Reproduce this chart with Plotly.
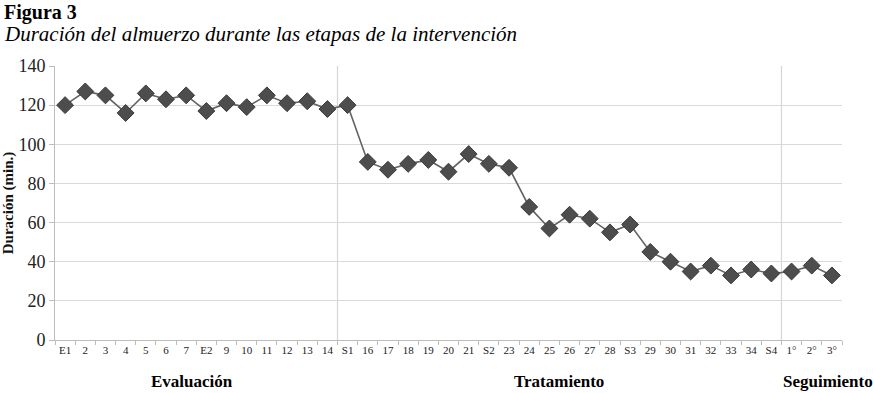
import plotly.graph_objects as go

sessions = ["E1", "2", "3", "4", "5", "6", "7", "E2", "9", "10", "11", "12", "13", "14",
            "S1", "16", "17", "18", "19", "20", "21", "S2", "23", "24", "25", "26", "27", "28",
            "S3", "29", "30", "31", "32", "33", "34", "S4", "1°", "2°", "3°"]
duration = [120, 127, 125, 116, 126, 123, 125, 117, 121, 119, 125, 121, 122, 118,
            120, 91, 87, 90, 92, 86, 95, 90, 88, 68, 57, 64, 62, 55,
            59, 45, 40, 35, 38, 33, 36, 34, 35, 38, 33]
phase_names = ["Evaluación", "Tratamiento", "Seguimiento"]
phase_lengths = [14, 22, 3]
y_ticks = [0, 20, 40, 60, 80, 100, 120, 140]

serif = "Times New Roman, Liberation Serif, serif"
fig = go.Figure()
fig.add_trace(go.Scatter(
    x=sessions, y=duration, mode="lines+markers",
    line=dict(color="#636363", width=1.6),
    marker=dict(symbol="diamond", size=13, color="#4d4d4d",
                line=dict(color="#3a3a3a", width=1)),
    showlegend=False,
))

# phase divider lines
cum = 0
for n in phase_lengths[:-1]:
    cum += n
    fig.add_shape(type="line", xref="x", yref="paper", x0=cum - 0.5, x1=cum - 0.5,
                  y0=0, y1=1, line=dict(color="#d6d6d6", width=1.2), layer="below")

fig.update_layout(
    width=873, height=393,
    margin=dict(l=55, r=31, t=66, b=53, autoexpand=False),
    paper_bgcolor="white", plot_bgcolor="white",
    font=dict(family=serif, color="#111"),
    xaxis=dict(type="category", range=[-0.5, len(sessions) - 0.5], automargin=False,
               showgrid=False, showline=True, linecolor="#bdbdbd", linewidth=1,
               ticks="outside", tickson="boundaries", ticklen=4, tickcolor="#bdbdbd",
               tickfont=dict(family=serif, size=11, color="#222"), tickangle=0),
    yaxis=dict(range=[0, 140], tickvals=y_ticks, showgrid=True, gridcolor="#d9d9d9",
               gridwidth=1.2, showline=True, linecolor="#bdbdbd", ticks="outside",
               ticklen=5, tickcolor="#bdbdbd", zeroline=False, automargin=False,
               tickfont=dict(family=serif, size=18, color="#222"),
               title=dict(text="<b>Duración (min.)</b>", font=dict(family=serif, size=15),
                          standoff=2)),
)

fig.add_annotation(text="<b>Figura 3</b>", xref="paper", yref="paper", x=-53/787, y=(340 + 1) / 274,
                   xanchor="left", yanchor="top", showarrow=False,
                   font=dict(family=serif, size=20, color="#000"))
fig.add_annotation(text="<i>Duración del almuerzo durante las etapas de la intervención</i>",
                   xref="paper", yref="paper", x=-53/787, y=(340 - 20) / 274,
                   xanchor="left", yanchor="top", showarrow=False,
                   font=dict(family=serif, size=21, color="#000"))

label_x = [192, 559, 828]
for name, px in zip(phase_names, label_x):
    fig.add_annotation(text=f"<b>{name}</b>", xref="paper", yref="paper",
                       x=(px - 55) / 787, y=(340 - 381) / 274, xanchor="center", yanchor="middle",
                       showarrow=False, font=dict(family=serif, size=17, color="#000"))

fig.write_html("out.html", config={"displayModeBar": False},
               post_script="document.body.style.margin='0';")
